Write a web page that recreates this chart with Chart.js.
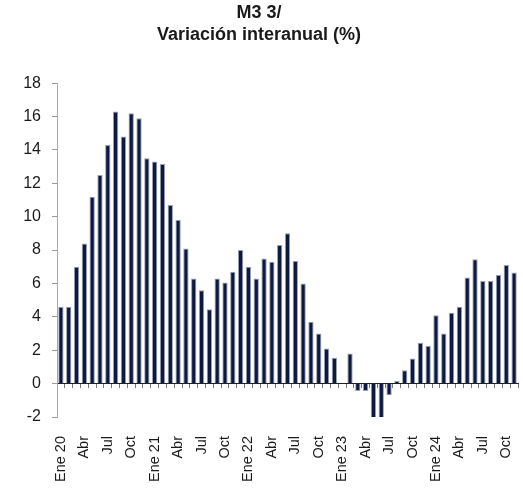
<!DOCTYPE html>
<html>
<head>
<meta charset="utf-8">
<script src="https://cdn.jsdelivr.net/npm/chart.js@4"></script>
<style>
  html, body { margin: 0; padding: 0; background: #fff; }
  #wrap { width: 523px; height: 489px; }
</style>
</head>
<body>
<div id="wrap"><canvas id="chart" width="523" height="489"></canvas></div>
<script>
// months Ene 2020 .. Nov 2024
const months = ['Ene', 'Feb', 'Mar', 'Abr', 'May', 'Jun', 'Jul', 'Ago', 'Sep', 'Oct', 'Nov', 'Dic'];
const years = ['20', '21', '22', '23', '24'];
const labels = [];
years.forEach(y => months.forEach(m => labels.push(m === 'Ene' ? m + ' ' + y : m)));
labels.length = 59;

// M3, variacion interanual (%)
const m3 = [
  4.6, 4.6, 7.0, 8.4, 11.2, 12.5, 14.3, 16.3, 14.8, 16.2, 15.9, 13.5,
  13.3, 13.15, 10.7, 9.8, 8.1, 6.3, 5.6, 4.45, 6.3, 6.05, 6.7, 8.0,
  7.0, 6.3, 7.5, 7.3, 8.3, 9.0, 7.35, 6.0, 3.7, 3.0, 2.1, 1.55,
  0.05, 1.8, -0.45, -0.45, -2.4, -2.5, -0.7, 0.15, 0.8, 1.5, 2.45, 2.25,
  4.1, 3.0, 4.25, 4.6, 6.35, 7.45, 6.15, 6.15, 6.5, 7.1, 6.65
];

const yTicks = { min: -2, max: 18, step: 2 };

const font = 'Liberation Sans, Arial, sans-serif';

new Chart(document.getElementById('chart'), {
  type: 'bar',
  data: {
    labels: labels,
    datasets: [{
      label: 'M3',
      data: m3,
      backgroundColor: '#0e1942',
      borderColor: 'rgba(110,120,145,0.7)',
      borderWidth: 1,
      barPercentage: 0.68,
      categoryPercentage: 1
    }]
  },
  options: {
    responsive: false,
    animation: false,
    layout: { padding: { left: 0, right: 5, top: 0, bottom: 0 } },
    plugins: {
      legend: { display: false },
      tooltip: { enabled: false },
      title: {
        display: true,
        text: ['M3 3/', 'Variación interanual (%)'],
        color: '#1a1a1a',
        font: { family: font, size: 18, weight: 'bold', lineHeight: 1.17 },
        padding: { top: 3, bottom: 38 }
      }
    },
    scales: {
      x: {
        grid: { display: false },
        border: { display: false },
        ticks: {
          autoSkip: false,
          maxRotation: 90,
          minRotation: 90,
          padding: 11,
          color: '#1a1a1a',
          font: { family: font, size: 14.5 },
          callback: function (v, i) { return i % 3 === 0 ? this.getLabelForValue(v) : ''; }
        },
        afterFit: s => { s.height = 72; s.paddingLeft = 0; s.paddingRight = 0; }
      },
      x2: {
        type: 'category',
        position: { y: 0 },
        offset: true,
        grid: { display: true, drawOnChartArea: false, drawTicks: true, tickLength: 4, offset: true, color: '#777' },
        border: { display: true, color: '#222', width: 1 },
        ticks: { display: false, autoSkip: false }
      },
      y: {
        min: yTicks.min,
        max: yTicks.max,
        grid: { drawOnChartArea: false, drawTicks: true, tickLength: 5, color: '#999' },
        border: { color: '#aaa' },
        ticks: {
          stepSize: yTicks.step,
          padding: 11,
          color: '#1a1a1a',
          font: { family: font, size: 16 }
        },
        afterFit: s => { s.width = 57; s.paddingTop = 0; s.paddingBottom = 0; }
      }
    }
  }
});
</script>
</body>
</html>
